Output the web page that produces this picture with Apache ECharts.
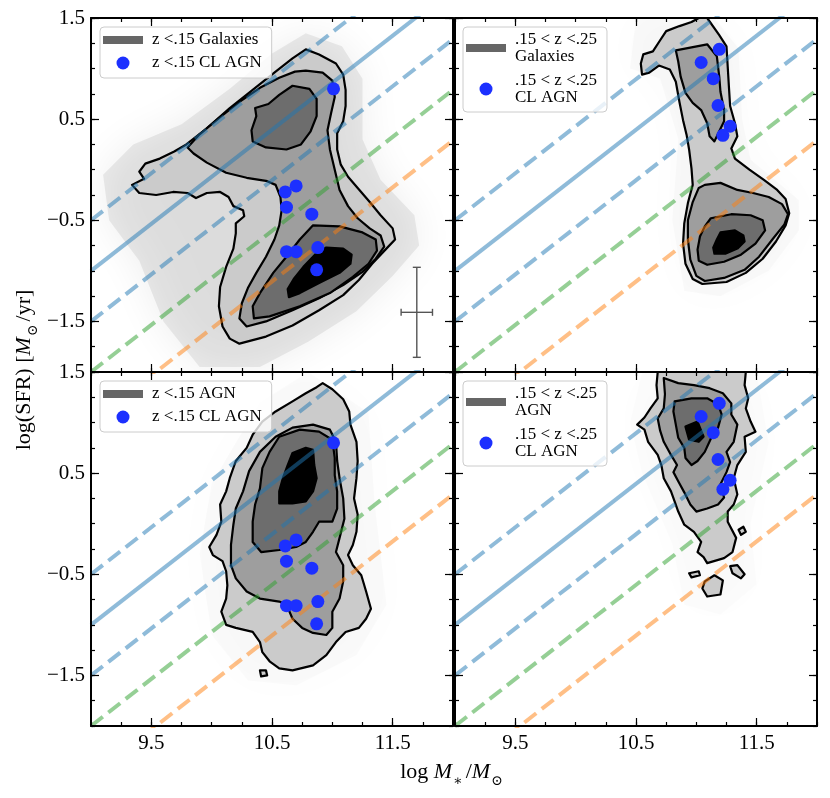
<!DOCTYPE html>
<html>
<head>
<meta charset="utf-8">
<script src="https://cdn.jsdelivr.net/npm/echarts@6/dist/echarts.min.js"></script>
<style>
  html, body { margin: 0; padding: 0; background: #fff; }
  #chart { width: 830px; height: 798px; }
</style>
</head>
<body>
<div id="chart"></div>
<script>
// x: log M*/Msun, y: log SFR
const xTicks = [9.5, 10.5, 11.5];
const yTicks = [-1.5, -0.5, 0.5, 1.5];

// reference lines: y at x = 9 and at x = 12
const lineX = [9, 12];
const msLine = [-1.0, 1.79];
const msUpper = [-0.5, 2.29];
const msLower = [-1.5, 1.29];
const greenLine = [-2.0, 0.79];
const orangeLine = [-2.5, 0.29];

// changing-look AGN
const clAgnLow = [[11.01, 0.80], [10.70, -0.16], [10.61, -0.22], [10.62, -0.37], [10.83, -0.44],
  [10.62, -0.81], [10.70, -0.81], [10.88, -0.77], [10.87, -0.99]];
const clAgnHigh = [[11.19, 1.19], [11.04, 1.06], [11.14, 0.90], [11.18, 0.635], [11.28, 0.43], [11.22, 0.34]];

// typical error bar (x, y, dx, dy)
const errBar = [[11.70, -1.41, 0.13, 0.445]];

// density contours, one list of polygons per level
const galLowHaze = [[[9.1, -0.05], [9.35, 0.25], [9.75, 0.45], [10.15, 0.8], [10.5, 1.15], [10.78, 1.35], [11.08, 1.22],
  [11.25, 0.9], [11.25, 0.3], [11.4, -0.1], [11.68, -0.45], [11.72, -0.75], [11.5, -1.05], [11.2, -1.4], [10.8, -1.7],
  [10.4, -1.95], [9.9, -1.95], [9.6, -1.5], [9.4, -0.9], [9.15, -0.5]]];
const galLowL1 = [[[10.78, 1.19], [10.89, 1.14], [11.03, 1.05], [11.09, 0.94], [11.11, 0.79], [11.11, 0.63], [11.09, 0.48],
  [11.04, 0.36], [11.04, 0.20], [11.07, 0.05], [11.13, -0.07], [11.21, -0.18], [11.31, -0.32], [11.40, -0.45], [11.50, -0.58],
  [11.52, -0.69], [11.44, -0.79], [11.33, -0.93], [11.22, -1.09], [11.09, -1.24], [10.89, -1.39], [10.67, -1.54], [10.45, -1.65],
  [10.23, -1.72], [10.15, -1.67], [10.09, -1.55], [10.06, -1.35], [10.07, -1.16], [10.12, -0.96], [10.18, -0.78], [10.20, -0.63],
  [10.20, -0.53], [10.27, -0.46], [10.26, -0.40], [10.18, -0.36], [10.14, -0.27], [10.07, -0.22], [9.96, -0.23], [9.87, -0.28],
  [9.80, -0.23], [9.68, -0.22], [9.54, -0.25], [9.40, -0.23], [9.34, -0.15], [9.44, -0.09], [9.40, -0.02], [9.45, 0.06],
  [9.57, 0.11], [9.69, 0.18], [9.79, 0.25], [9.96, 0.41], [10.15, 0.61], [10.34, 0.79], [10.53, 0.97], [10.67, 1.10]]];
const galLowL2 = [[[10.78, 0.98], [10.92, 0.96], [11.00, 0.88], [11.02, 0.72], [10.99, 0.56], [10.96, 0.39], [10.98, 0.20],
  [11.02, 0.00], [11.06, -0.20], [11.13, -0.36], [11.21, -0.48], [11.31, -0.58], [11.40, -0.65], [11.43, -0.76], [11.36, -0.88],
  [11.25, -1.01], [11.09, -1.14], [10.89, -1.27], [10.67, -1.39], [10.45, -1.50], [10.29, -1.55], [10.23, -1.47], [10.25, -1.32],
  [10.30, -1.17], [10.37, -1.02], [10.45, -0.86], [10.52, -0.69], [10.56, -0.55], [10.58, -0.40], [10.57, -0.27], [10.53, -0.15],
  [10.45, -0.11], [10.29, -0.08], [10.12, -0.03], [9.96, 0.07], [9.85, 0.16], [9.80, 0.22], [9.90, 0.35], [10.07, 0.52],
  [10.23, 0.67], [10.40, 0.81], [10.56, 0.91], [10.69, 0.97]]];
const galLowL3 = [
  [[10.67, 0.83], [10.81, 0.80], [10.87, 0.70], [10.87, 0.53], [10.82, 0.38], [10.74, 0.25], [10.62, 0.20], [10.45, 0.22],
    [10.34, 0.28], [10.33, 0.39], [10.37, 0.53], [10.36, 0.61], [10.47, 0.65], [10.56, 0.74]],
  [[10.84, -0.55], [11.06, -0.56], [11.25, -0.62], [11.36, -0.69], [11.37, -0.80], [11.30, -0.93], [11.17, -1.06], [10.98, -1.22],
    [10.73, -1.35], [10.48, -1.45], [10.35, -1.47], [10.34, -1.35], [10.40, -1.22], [10.51, -1.02], [10.62, -0.86], [10.73, -0.69],
    [10.80, -0.60]]];
const galLowL4 = [[[10.95, -0.77], [11.09, -0.78], [11.16, -0.84], [11.15, -0.93], [11.06, -1.02], [10.89, -1.12], [10.73, -1.22],
  [10.64, -1.26], [10.63, -1.18], [10.68, -1.08], [10.76, -0.96], [10.84, -0.86], [10.89, -0.80]]];

const galHighHaze = [[[10.5, 1.5], [11.15, 1.5], [11.35, 1.2], [11.38, 0.5], [11.45, 0.1], [11.85, -0.3], [11.85, -0.6],
  [11.6, -1.0], [11.2, -1.25], [10.9, -1.2], [10.8, -0.5], [10.85, 0.3], [10.7, 0.9], [10.45, 1.0]]];
const galHighL1 = [[[11.02, 1.50], [11.09, 1.50], [11.19, 1.33], [11.25, 1.22], [11.26, 1.02], [11.27, 0.82], [11.28, 0.63],
  [11.32, 0.46], [11.34, 0.33], [11.29, 0.21], [11.32, 0.11], [11.44, 0.00], [11.56, -0.10], [11.67, -0.20], [11.74, -0.29],
  [11.77, -0.43], [11.74, -0.55], [11.66, -0.71], [11.55, -0.88], [11.41, -1.02], [11.25, -1.11], [11.05, -1.13], [10.97, -1.08],
  [10.91, -0.93], [10.89, -0.73], [10.90, -0.53], [10.93, -0.33], [10.97, -0.15], [10.96, 0.01], [10.94, 0.20], [10.92, 0.34],
  [10.89, 0.49], [10.86, 0.67], [10.83, 0.87], [10.78, 0.99], [10.69, 1.03], [10.61, 0.96], [10.55, 0.94], [10.54, 1.05],
  [10.56, 1.14], [10.64, 1.17], [10.70, 1.28], [10.75, 1.37], [10.86, 1.42], [10.96, 1.46]]];
const galHighL2 = [
  [[10.83, 1.18], [10.96, 1.21], [11.09, 1.24], [11.17, 1.12], [11.19, 0.92], [11.20, 0.77], [11.23, 0.59], [11.23, 0.48],
    [11.19, 0.38], [11.15, 0.28], [11.11, 0.33], [11.09, 0.46], [11.04, 0.59], [10.97, 0.66], [10.91, 0.76], [10.87, 0.92],
    [10.85, 1.07]],
  [[11.07, -0.15], [11.20, -0.13], [11.34, -0.20], [11.47, -0.23], [11.60, -0.27], [11.71, -0.34], [11.76, -0.44], [11.73, -0.54],
    [11.63, -0.69], [11.52, -0.86], [11.40, -0.99], [11.23, -1.07], [11.07, -1.10], [11.00, -1.05], [10.95, -0.89], [10.93, -0.69],
    [10.93, -0.50], [10.97, -0.32], [11.02, -0.18]]];
const galHighL3 = [[[11.12, -0.48], [11.29, -0.44], [11.45, -0.45], [11.55, -0.50], [11.57, -0.60], [11.49, -0.73], [11.37, -0.84],
  [11.23, -0.91], [11.09, -0.94], [11.02, -0.90], [11.01, -0.79], [11.03, -0.66], [11.07, -0.56]]];
const galHighL4 = [[[11.20, -0.62], [11.32, -0.60], [11.39, -0.65], [11.40, -0.71], [11.34, -0.78], [11.24, -0.83], [11.15, -0.83],
  [11.14, -0.77], [11.17, -0.69]]];

const agnLowHaze = [[[10.8, 1.5], [11.3, 1.1], [11.35, 0.2], [11.45, -0.8], [11.2, -1.3], [10.7, -1.6], [10.3, -1.55], [10.0, -1.1],
  [9.9, -0.3], [10.0, 0.4], [10.4, 1.2]]];
const agnLowL1 = [
  [[10.92, 1.39], [11.00, 1.33], [11.09, 1.23], [11.14, 1.11], [11.15, 0.98], [11.20, 0.81], [11.21, 0.62], [11.20, 0.45],
    [11.18, 0.25], [11.21, 0.09], [11.20, -0.08], [11.17, -0.21], [11.13, -0.31], [11.17, -0.41], [11.24, -0.51], [11.28, -0.67],
    [11.32, -0.84], [11.28, -0.94], [11.22, -1.03], [11.11, -1.07], [11.03, -1.17], [10.95, -1.30], [10.84, -1.40], [10.67, -1.45],
    [10.56, -1.43], [10.48, -1.36], [10.42, -1.27], [10.40, -1.17], [10.34, -1.07], [10.20, -1.03], [10.12, -1.00], [10.08, -0.87],
    [10.12, -0.74], [10.13, -0.61], [10.12, -0.47], [10.09, -0.37], [10.01, -0.31], [9.98, -0.23], [10.04, -0.11], [10.08, 0.02],
    [10.07, 0.19], [10.12, 0.32], [10.15, 0.45], [10.20, 0.62], [10.29, 0.75], [10.34, 0.88], [10.42, 1.01], [10.53, 1.11],
    [10.67, 1.21], [10.78, 1.29], [10.87, 1.35]],
  [[10.40, -1.45], [10.45, -1.45], [10.46, -1.50], [10.41, -1.51]]];
const agnLowL2 = [[[10.67, 0.95], [10.84, 0.98], [10.98, 0.93], [11.03, 0.81], [11.04, 0.62], [11.06, 0.45], [11.09, 0.25],
  [11.10, 0.05], [11.06, -0.14], [11.03, -0.28], [11.09, -0.41], [11.09, -0.57], [11.06, -0.74], [11.00, -0.87], [11.00, -1.03],
  [10.95, -1.10], [10.84, -1.08], [10.75, -1.03], [10.67, -0.94], [10.62, -0.80], [10.56, -0.77], [10.40, -0.74], [10.29, -0.67],
  [10.20, -0.54], [10.16, -0.41], [10.16, -0.21], [10.18, -0.01], [10.20, 0.15], [10.26, 0.32], [10.31, 0.52], [10.40, 0.71],
  [10.53, 0.86]]];
const agnLowL3 = [[[10.56, 0.86], [10.73, 0.93], [10.89, 0.91], [11.00, 0.83], [11.02, 0.65], [11.02, 0.48], [11.04, 0.32],
  [11.04, 0.15], [11.00, 0.02], [10.89, 0.02], [10.84, -0.08], [10.78, -0.18], [10.70, -0.23], [10.56, -0.26], [10.41, -0.28],
  [10.34, -0.18], [10.34, 0.02], [10.36, 0.19], [10.40, 0.35], [10.42, 0.55], [10.48, 0.71]]];
const agnLowL4 = [[[10.67, 0.70], [10.78, 0.75], [10.84, 0.73], [10.85, 0.58], [10.87, 0.45], [10.84, 0.32], [10.78, 0.22],
  [10.67, 0.20], [10.56, 0.20], [10.56, 0.32], [10.59, 0.45], [10.63, 0.58]]];

const agnHighHaze = [[[10.55, 1.5], [11.5, 1.5], [11.6, 0.8], [11.45, 0.0], [11.5, -0.6], [11.2, -0.9], [10.9, -0.8], [10.8, -0.2],
  [10.55, 0.5], [10.45, 1.0]]];
const agnHighL1 = [
  [[10.68, 1.50], [11.41, 1.50], [11.40, 1.37], [11.43, 1.24], [11.41, 1.14], [11.45, 1.01], [11.49, 0.91], [11.40, 0.86],
    [11.41, 0.71], [11.34, 0.58], [11.31, 0.45], [11.34, 0.29], [11.31, 0.19], [11.26, 0.12], [11.26, 0.02], [11.33, -0.14],
    [11.30, -0.28], [11.23, -0.34], [11.09, -0.39], [11.06, -0.33], [11.01, -0.28], [11.04, -0.18], [10.98, -0.08], [10.90, -0.01],
    [10.85, 0.12], [10.82, 0.22], [10.79, 0.32], [10.73, 0.45], [10.71, 0.58], [10.68, 0.68], [10.60, 0.81], [10.57, 0.93],
    [10.51, 0.98], [10.57, 1.05], [10.62, 1.14], [10.68, 1.24], [10.67, 1.37]],
  [[11.07, -0.57], [11.15, -0.51], [11.22, -0.56], [11.20, -0.70], [11.09, -0.72], [11.05, -0.64]],
  [[11.28, -0.42], [11.34, -0.41], [11.40, -0.50], [11.37, -0.54], [11.30, -0.49]],
  [[10.94, -0.49], [11.02, -0.47], [11.03, -0.51], [10.96, -0.53]],
  [[11.35, -0.06], [11.39, -0.03], [11.41, -0.08], [11.37, -0.11]]];
const agnHighL2 = [[[10.73, 1.44], [10.85, 1.39], [10.98, 1.37], [11.11, 1.34], [11.22, 1.29], [11.29, 1.19], [11.29, 1.08],
  [11.34, 0.98], [11.31, 0.81], [11.25, 0.71], [11.28, 0.61], [11.25, 0.51], [11.20, 0.39], [11.23, 0.26], [11.18, 0.19],
  [11.09, 0.15], [11.00, 0.12], [10.95, 0.19], [10.90, 0.31], [10.85, 0.42], [10.81, 0.51], [10.84, 0.58], [10.79, 0.68],
  [10.73, 0.81], [10.70, 0.92], [10.68, 1.04], [10.73, 1.14], [10.74, 1.28]]];
const agnHighL3 = [[[10.82, 1.21], [10.96, 1.24], [11.09, 1.24], [11.18, 1.18], [11.21, 1.08], [11.18, 0.95], [11.12, 0.84],
  [11.07, 0.71], [11.01, 0.62], [10.96, 0.58], [10.91, 0.65], [10.90, 0.75], [10.85, 0.85], [10.83, 0.98], [10.81, 1.11]]];
const agnHighL4 = [[[10.91, 0.96], [11.01, 1.01], [11.06, 0.86], [11.02, 0.81], [10.94, 0.83]]];

const SERIF = "'Liberation Serif', 'DejaVu Serif', serif";
const levelFills = ['#cbcbcb', '#9e9e9e', '#6d6d6d', '#000000'];

const panels = [
  { haze: galLowHaze, hazeAlpha: 0.07, levels: [galLowL1, galLowL2, galLowL3, galLowL4],
    densName: 'z <.15 Galaxies', agn: clAgnLow, agnName: 'z <.15 CL AGN', legend: [100, 27] },
  { haze: galHighHaze, hazeAlpha: 0.02, levels: [galHighL1, galHighL2, galHighL3, galHighL4],
    densName: '.15 < z <.25\nGalaxies', agn: clAgnHigh, agnName: '.15 < z <.25\nCL AGN', legend: [463, 27] },
  { haze: agnLowHaze, hazeAlpha: 0.015, levels: [agnLowL1, agnLowL2, agnLowL3, agnLowL4],
    densName: 'z <.15 AGN', agn: clAgnLow, agnName: 'z <.15 CL AGN', legend: [100, 381] },
  { haze: agnHighHaze, hazeAlpha: 0.01, levels: [agnHighL1, agnHighL2, agnHighL3, agnHighL4],
    densName: '.15 < z <.25\nAGN', agn: clAgnHigh, agnName: '.15 < z <.25\nCL AGN', legend: [463, 381] }
];

const grids = [
  { left: 91, top: 18, width: 362, height: 354 },
  { left: 455, top: 18, width: 362, height: 354 },
  { left: 91, top: 372, width: 362, height: 354 },
  { left: 455, top: 372, width: 362, height: 354 }
];

const fmt = v => (v < 0 ? '\u2212' : '') + Math.abs(v).toFixed(1);
const tickStyle = { color: '#000', width: 1.2 };

function makeAxes(g, isX) {
  const base = isX
    ? { type: 'value', gridIndex: g, min: 9, max: 12, interval: 0.25 }
    : { type: 'value', gridIndex: g, min: -2, max: 1.5, interval: 0.25 };
  Object.assign(base, { z: 8, splitLine: { show: false } });
  const sides = isX ? ['bottom', 'top'] : ['left', 'right'];
  const major = isX ? xTicks : yTicks;
  const showLabels = isX ? g >= 2 : g % 2 === 0;
  const out = [];
  sides.forEach((pos, k) => {
    out.push(Object.assign({}, base, {
      position: pos,
      axisLine: { show: true, onZero: false, lineStyle: { color: '#000', width: 2 } },
      axisTick: { show: true, inside: true, length: 4, lineStyle: tickStyle },
      axisLabel: { show: false }
    }));
    out.push(Object.assign({}, base, {
      position: pos,
      axisLine: { show: false, onZero: false },
      axisTick: { show: true, inside: true, length: 8, customValues: major, lineStyle: tickStyle },
      axisLabel: {
        show: k === 0 && showLabels, customValues: major, formatter: fmt,
        margin: isX ? 7 : 6, fontSize: 21, fontFamily: SERIF, color: '#000'
      }
    }));
  });
  return out;
}

function polySeries(polys, g, z, name, style) {
  return {
    type: 'custom', name: name, xAxisIndex: g * 4, yAxisIndex: g * 4, z: z,
    clip: true, silent: true, animation: false,
    data: polys.map(p => p[0]),
    renderItem: (params, api) => ({
      type: 'polygon',
      shape: { points: polys[params.dataIndex].map(p => api.coord(p)) },
      style: style
    })
  };
}

const refLines = [
  { y: msUpper, color: '#1f77b4', type: [15, 7] },
  { y: msLine, color: '#1f77b4', type: 'solid' },
  { y: msLower, color: '#1f77b4', type: [15, 7] },
  { y: greenLine, color: '#2ca02c', type: [15, 7] },
  { y: orangeLine, color: '#ff7f0e', type: [15, 7] }
];

const xAxis = [], yAxis = [], series = [], legend = [];
const barIcon = 'path://M0,0L40,0L40,8L0,8Z';

panels.forEach((p, g) => {
  xAxis.push(...makeAxes(g, true));
  yAxis.push(...makeAxes(g, false));

  series.push(polySeries(p.haze, g, 1, undefined, {
    fill: '#000', opacity: p.hazeAlpha, shadowBlur: 40, shadowColor: '#000'
  }));
  p.levels.forEach((polys, li) => {
    series.push(polySeries(polys, g, 2 + li, li === 0 ? p.densName : undefined, {
      fill: levelFills[li], stroke: '#000', lineWidth: 2.2, lineJoin: 'round'
    }));
  });

  refLines.forEach(l => {
    series.push({
      type: 'line', xAxisIndex: g * 4, yAxisIndex: g * 4, z: 6, silent: true, animation: false,
      symbol: 'none', clip: true,
      data: lineX.map((x, i) => [x, l.y[i]]),
      lineStyle: { color: l.color, width: 4, opacity: 0.5, type: l.type, cap: 'butt' }
    });
  });

  series.push({
    type: 'scatter', name: p.agnName, xAxisIndex: g * 4, yAxisIndex: g * 4, z: 7, silent: true,
    animation: false, symbolSize: 13, data: p.agn,
    itemStyle: { color: '#1c30ff', opacity: 1 }
  });

  legend.push({
    left: p.legend[0], top: p.legend[1], orient: 'vertical', selectedMode: false, z: 10,
    itemWidth: 40, itemHeight: 13, itemGap: g % 2 === 0 ? 5 : 7,
    padding: [4, 10, 6, 3],
    backgroundColor: 'rgba(255,255,255,0.8)', borderColor: '#cccccc', borderWidth: 1, borderRadius: 4,
    textStyle: {
      fontFamily: SERIF, fontSize: 17, color: '#000',
      lineHeight: g % 2 === 0 ? 18 : 17, padding: [0, 0, 0, 4]
    },
    data: [
      { name: p.densName, icon: barIcon, itemStyle: { color: '#666666' } },
      { name: p.agnName, icon: 'circle' }
    ]
  });
});

// error bar in first panel
series.push({
  type: 'custom', xAxisIndex: 0, yAxisIndex: 0, z: 6, silent: true, animation: false,
  data: errBar,
  renderItem: (params, api) => {
    const x = api.value(0), y = api.value(1), dx = api.value(2), dy = api.value(3);
    const l = api.coord([x - dx, y]), r = api.coord([x + dx, y]);
    const t = api.coord([x, y + dy]), b = api.coord([x, y - dy]);
    const st = { stroke: '#555', lineWidth: 1.4 };
    const seg = (x1, y1, x2, y2) => ({ type: 'line', shape: { x1, y1, x2, y2 }, style: st });
    return {
      type: 'group', children: [
        seg(l[0], l[1], r[0], r[1]), seg(t[0], t[1], b[0], b[1]),
        seg(l[0], l[1] - 3.5, l[0], l[1] + 3.5), seg(r[0], r[1] - 3.5, r[0], r[1] + 3.5),
        seg(t[0] - 4, t[1], t[0] + 4, t[1]), seg(b[0] - 4, b[1], b[0] + 4, b[1])
      ]
    };
  }
});

const labelRich = {
  n: { fontFamily: SERIF, fontSize: 22, lineHeight: 32, fill: '#000' },
  i: { fontFamily: SERIF, fontSize: 22, fontStyle: 'italic', lineHeight: 32, fill: '#000' },
  s: { fontFamily: SERIF, fontSize: 14, lineHeight: 14, verticalAlign: 'bottom', fill: '#000', padding: [0, 3, 0, 1] }
};

const chart = echarts.init(document.getElementById('chart'), null, { renderer: 'canvas' });
chart.setOption({
  animation: false,
  backgroundColor: '#fff',
  grid: grids,
  xAxis: xAxis,
  yAxis: yAxis,
  legend: legend,
  series: series,
  graphic: [
    {
      type: 'text', x: 453, y: 772, z: 20,
      style: {
        text: '{n|log }{i|M}{s|\u2217}{n|/}{i|M}{s|\u2299}', rich: labelRich,
        align: 'center', verticalAlign: 'middle', fontFamily: SERIF, fontSize: 22, fill: '#000'
      }
    },
    {
      type: 'text', x: 24, y: 370, rotation: Math.PI / 2, z: 20,
      style: {
        text: '{n|log(SFR) [}{i|M}{s|\u2299}{n|/yr]}', rich: labelRich,
        align: 'center', verticalAlign: 'middle', fontFamily: SERIF, fontSize: 22, fill: '#000'
      }
    }
  ]
});
window.addEventListener('resize', () => chart.resize());
</script>
</body>
</html>
